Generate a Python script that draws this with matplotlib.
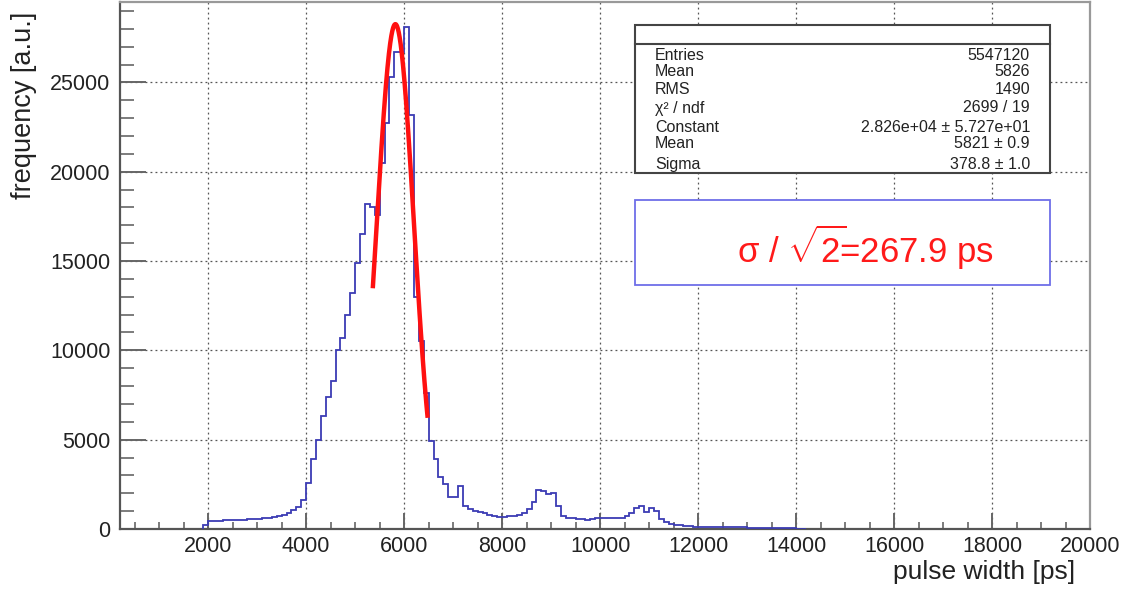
import numpy as np
import matplotlib
matplotlib.use("Agg")
import matplotlib.pyplot as plt
from matplotlib.patches import Rectangle
from matplotlib.ticker import MultipleLocator

plt.rcParams['font.family'] = ['Liberation Sans', 'DejaVu Sans']
plt.rcParams['mathtext.fontset'] = 'custom'
plt.rcParams['mathtext.rm'] = 'Liberation Sans'
plt.rcParams['mathtext.it'] = 'Liberation Sans:italic'

# ---------------- data ----------------
bin_start = 1900          # ps
bin_width = 100           # ps
counts = [
    200,
    420, 460, 470, 480, 480, 490, 500, 510, 540, 560,
    580, 600, 620, 660, 720, 780, 900, 1060, 1250, 1650,
    2600, 3900, 5000, 6300, 7400, 8300, 10000, 10700, 12000, 13200,
    14900, 16500, 18200, 18000, 17600, 20500, 22700, 25300, 26700, 26700,
    28100, 23200, 13000, 10500, 7600, 4900, 3900, 2900, 2500, 1800,
    1800, 2400, 1300, 1100, 1000, 950, 870, 800, 740, 690,
    670, 700, 740, 800, 900, 1100, 1500, 2200, 2150, 1950,
    2000, 1300, 700, 640, 600, 580, 540, 520, 560, 600,
    610, 610, 610, 620, 640, 700, 900, 1200, 1280, 950,
    1200, 1000, 550, 380, 300, 250, 220, 190, 160, 130,
    110, 105, 100, 100, 95, 95, 90, 90, 85, 85,
    80, 50, 45, 40, 40, 40, 35, 35, 30, 30,
    25, 20,
]

# Gaussian fit parameters (from stats box)
fit_constant = 2.826e4
fit_mean = 5821.0
fit_sigma = 378.8
fit_range = (5360, 6480)

stats_labels = ["Entries", "Mean", "RMS", "χ² / ndf", "Constant", "Mean", "Sigma"]
stats_values = ["5547120", "5826", "1490", "2699 / 19",
                "2.826e+04 ± 5.727e+01", "5821 ± 0.9", "378.8 ± 1.0"]
result_text = r"σ / $\sqrt{2}\!$=267.9 ps"

xlim = (200, 20000)
ylim = (0, 29500)

# ---------------- figure ----------------
W, H = 1143, 590
fig = plt.figure(figsize=(W / 100, H / 100), dpi=100)

def fx(px):
    return px / W

def fy(py):
    return 1 - py / H

L, R, T, B = 120, 1090, 2, 529
ax = fig.add_axes([fx(L), fy(B), fx(R) - fx(L), fy(T) - fy(B)])

edges = bin_start + bin_width * np.arange(len(counts) + 1)
ax.stairs(counts, edges, color='#3c3cb4', lw=1.3, baseline=0, zorder=3)

xf = np.linspace(fit_range[0], fit_range[1], 300)
yf = fit_constant * np.exp(-0.5 * ((xf - fit_mean) / fit_sigma) ** 2)
ax.plot(xf, yf, color='#ff1010', lw=3.2, zorder=4, solid_capstyle='butt')

ax.set_xlim(*xlim)
ax.set_ylim(*ylim)
ax.xaxis.set_major_locator(MultipleLocator(2000))
ax.xaxis.set_minor_locator(MultipleLocator(500))
ax.yaxis.set_major_locator(MultipleLocator(5000))
ax.yaxis.set_minor_locator(MultipleLocator(1000))

ax.grid(True, which='major', color='#555555', linestyle=(0, (1.5, 2.5)), lw=0.9, zorder=1)
ax.set_axisbelow(True)

ax.tick_params(axis='y', which='major', direction='in', length=19, width=1.4,
               color='#666666', labelsize=15.5, pad=7, labelcolor='#222222')
ax.tick_params(axis='y', which='minor', direction='in', length=10, width=1.2, color='#666666')
ax.tick_params(axis='x', which='major', direction='in', length=11.5, width=1.4,
               color='#666666', labelsize=15.5, pad=5, labelcolor='#222222')
ax.tick_params(axis='x', which='minor', direction='in', length=5, width=1.2, color='#666666')

for s in ['left', 'bottom']:
    ax.spines[s].set_color('#555555')
    ax.spines[s].set_linewidth(1.6)
for s in ['right', 'top']:
    ax.spines[s].set_color('#999999')
    ax.spines[s].set_linewidth(1.6)

# axis titles
fig.text(fx(24), fy(12), "frequency [a.u.]", rotation=90, ha='center', va='top',
         fontsize=19.5, color='#222222')
fig.text(fx(1075), fy(572), "pulse width [ps]", ha='right', va='center',
         fontsize=19, color='#222222')

# stats box
x0, x1, y0, y1, yh = 635, 1050, 25, 173, 44
ax.add_patch(Rectangle((fx(x0), fy(y1)), fx(x1) - fx(x0), fy(y0) - fy(y1),
                       transform=fig.transFigure, facecolor='white', edgecolor='#444444',
                       lw=1.5, zorder=6, clip_on=False))
ax.plot([fx(x0), fx(x1)], [fy(yh), fy(yh)], transform=fig.transFigure, color='#444444',
        lw=1.5, zorder=7, clip_on=False)
rows_y = [55, 72, 89, 108, 127, 144, 164]
for lab, val, ry in zip(stats_labels, stats_values, rows_y):
    fig.text(fx(655), fy(ry), lab, ha='left', va='center', fontsize=11.5, color='#222222', zorder=8)
    fig.text(fx(1030), fy(ry), val, ha='right', va='center', fontsize=11.5, color='#222222', zorder=8)

# result box
bx0, bx1, by0, by1 = 635, 1050, 200, 285
ax.add_patch(Rectangle((fx(bx0), fy(by1)), fx(bx1) - fx(bx0), fy(by0) - fy(by1),
                       transform=fig.transFigure, facecolor='white', edgecolor='#6e6ee8',
                       lw=1.3, zorder=6, clip_on=False))
fig.text(fx(865), fy(247), result_text, ha='center', va='center', fontsize=25,
         color='#ff1a1a', zorder=8)

fig.savefig("out.png", dpi=100)
